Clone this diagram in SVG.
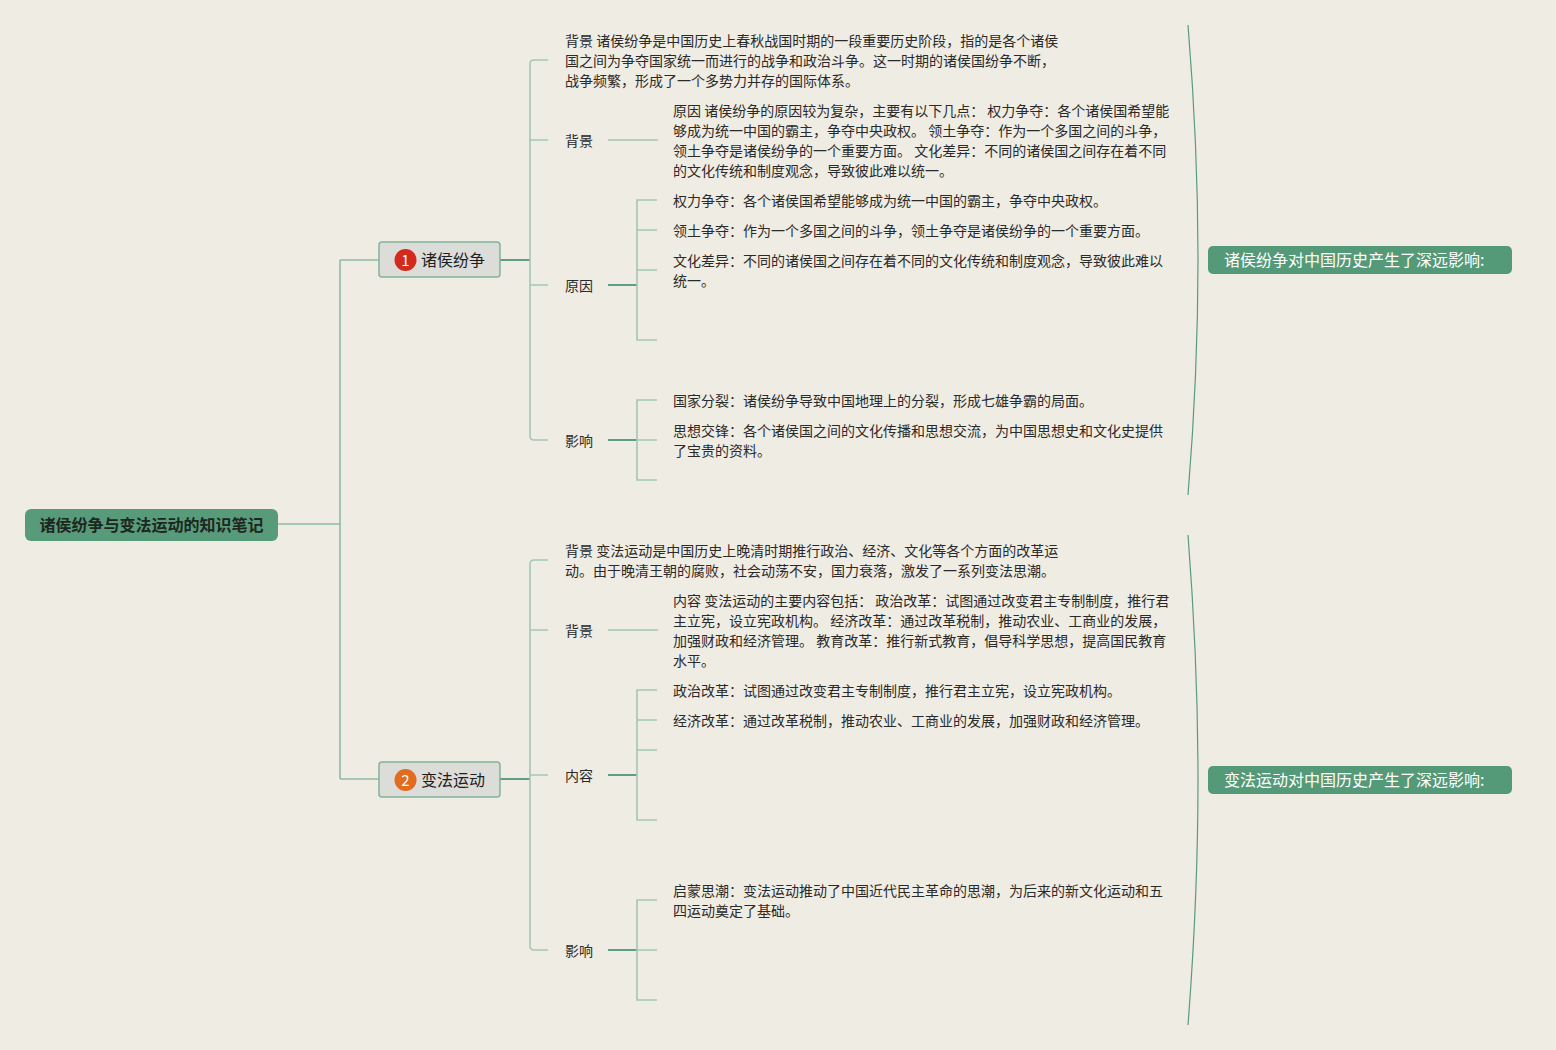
<svg xmlns="http://www.w3.org/2000/svg" width="1556" height="1050" viewBox="0 0 1556 1050">
<style>
text{font-family:"Noto Sans CJK SC","Noto Sans",sans-serif;}
.t{font-size:14px;fill:#2a2a2a;}
.lbl{font-size:14px;fill:#2a2a2a;}
.ln{fill:none;stroke:#a3c7b5;stroke-width:1.6;}
.lm{fill:none;stroke:#5f9e84;stroke-width:2;}
.lr{fill:none;stroke:#8fbba6;stroke-width:1.6;}
.br{fill:none;stroke:#5a9a80;stroke-width:1.2;}
.sub{fill:#dcdcd9;stroke:#82b29c;stroke-width:1.5;}
.sum{fill:#559a78;}
.sumt{font-size:16px;fill:#ffffff;}
</style>
<rect width="1556" height="1050" fill="#efece3"/>
<g id="connectors">
<path class="lr" d="M278,524 H340 M340,260 V779 M340,260 H379 M340,779 H379"/>
<path class="lm" d="M500,260 H530 M500,779 H530"/>
<path class="ln" d="M548,60 H534 Q530,60 530,64 V436 Q530,440 534,440 H548 M530,140 H548 M530,285 H548"/>
<path class="ln" d="M608,140 H658"/>
<path class="lm" d="M608,285 H637 M608,440 H637"/>
<path class="ln" d="M657,200 H637 V340 H657 M637,230 H657 M637,270 H657"/>
<path class="ln" d="M657,400 H637 V480 H657 M637,440 H657"/>
<path class="ln" d="M548,560 H534 Q530,560 530,564 V946 Q530,950 534,950 H548 M530,630 H548 M530,775 H548"/>
<path class="ln" d="M608,630 H658"/>
<path class="lm" d="M608,775 H637 M608,950 H637"/>
<path class="ln" d="M657,690 H637 V820 H657 M637,720 H657 M637,750 H657"/>
<path class="ln" d="M657,900 H637 V1000 H657 M637,950 H657"/>
<path class="br" d="M1188,25 C1195,110 1198,190 1198,260 C1198,330 1195,410 1188,495"/>
<path class="br" d="M1188,535 C1195,625 1198,705 1198,780 C1198,855 1195,935 1188,1025"/>
</g>
<g id="root">
<rect x="25" y="509" width="253" height="32" rx="6" fill="#579b7a"/>
<text x="151.5" y="530.5" text-anchor="middle" font-size="16" font-weight="bold" fill="#1e2620">诸侯纷争与变法运动的知识笔记</text>
</g>
<g id="node1">
<rect class="sub" x="379" y="242" width="121" height="35" rx="3"/>
<circle cx="405.5" cy="260" r="11" fill="#d42a1b"/>
<text x="405.5" y="265.5" text-anchor="middle" font-size="15" fill="#ffffff">1</text>
<text x="421" y="265.5" font-size="16" fill="#1e1e1e">诸侯纷争</text>
</g>
<g id="node2">
<rect class="sub" x="379" y="762" width="121" height="35" rx="3"/>
<circle cx="405.5" cy="780" r="11" fill="#e26b1e"/>
<text x="405.5" y="785.5" text-anchor="middle" font-size="15" fill="#ffffff">2</text>
<text x="421" y="785.5" font-size="16" fill="#1e1e1e">变法运动</text>
</g>
<g id="n1-bg-text">
<text class="t" x="565" y="46">背景 诸侯纷争是中国历史上春秋战国时期的一段重要历史阶段，指的是各个诸侯</text>
<text class="t" x="565" y="66">国之间为争夺国家统一而进行的战争和政治斗争。这一时期的诸侯国纷争不断，</text>
<text class="t" x="565" y="86">战争频繁，形成了一个多势力并存的国际体系。</text>
</g>
<g id="n1-bg"><text class="lbl" x="565" y="146">背景</text></g>
<g id="n1-bg-child">
<text class="t" x="673" y="116">原因 诸侯纷争的原因较为复杂，主要有以下几点： 权力争夺：各个诸侯国希望能</text>
<text class="t" x="673" y="136">够成为统一中国的霸主，争夺中央政权。 领土争夺：作为一个多国之间的斗争，</text>
<text class="t" x="673" y="156">领土争夺是诸侯纷争的一个重要方面。 文化差异：不同的诸侯国之间存在着不同</text>
<text class="t" x="673" y="176">的文化传统和制度观念，导致彼此难以统一。</text>
</g>
<g id="n1-cause"><text class="lbl" x="565" y="291">原因</text></g>
<g id="n1-cause-1"><text class="t" x="673" y="206">权力争夺：各个诸侯国希望能够成为统一中国的霸主，争夺中央政权。</text></g>
<g id="n1-cause-2"><text class="t" x="673" y="236">领土争夺：作为一个多国之间的斗争，领土争夺是诸侯纷争的一个重要方面。</text></g>
<g id="n1-cause-3">
<text class="t" x="673" y="266">文化差异：不同的诸侯国之间存在着不同的文化传统和制度观念，导致彼此难以</text>
<text class="t" x="673" y="286">统一。</text>
</g>
<g id="n1-impact"><text class="lbl" x="565" y="446">影响</text></g>
<g id="n1-impact-1"><text class="t" x="673" y="406">国家分裂：诸侯纷争导致中国地理上的分裂，形成七雄争霸的局面。</text></g>
<g id="n1-impact-2">
<text class="t" x="673" y="436">思想交锋：各个诸侯国之间的文化传播和思想交流，为中国思想史和文化史提供</text>
<text class="t" x="673" y="456">了宝贵的资料。</text>
</g>
<g id="n2-bg-text">
<text class="t" x="565" y="556">背景 变法运动是中国历史上晚清时期推行政治、经济、文化等各个方面的改革运</text>
<text class="t" x="565" y="576">动。由于晚清王朝的腐败，社会动荡不安，国力衰落，激发了一系列变法思潮。</text>
</g>
<g id="n2-bg"><text class="lbl" x="565" y="636">背景</text></g>
<g id="n2-bg-child">
<text class="t" x="673" y="606">内容 变法运动的主要内容包括： 政治改革：试图通过改变君主专制制度，推行君</text>
<text class="t" x="673" y="626">主立宪，设立宪政机构。 经济改革：通过改革税制，推动农业、工商业的发展，</text>
<text class="t" x="673" y="646">加强财政和经济管理。 教育改革：推行新式教育，倡导科学思想，提高国民教育</text>
<text class="t" x="673" y="666">水平。</text>
</g>
<g id="n2-content"><text class="lbl" x="565" y="781">内容</text></g>
<g id="n2-content-1"><text class="t" x="673" y="696">政治改革：试图通过改变君主专制制度，推行君主立宪，设立宪政机构。</text></g>
<g id="n2-content-2"><text class="t" x="673" y="726">经济改革：通过改革税制，推动农业、工商业的发展，加强财政和经济管理。</text></g>
<g id="n2-impact"><text class="lbl" x="565" y="956">影响</text></g>
<g id="n2-impact-1">
<text class="t" x="673" y="896">启蒙思潮：变法运动推动了中国近代民主革命的思潮，为后来的新文化运动和五</text>
<text class="t" x="673" y="916">四运动奠定了基础。</text>
</g>
<g id="summary1">
<rect class="sum" x="1208" y="246" width="304" height="28" rx="5"/>
<text class="sumt" x="1224" y="265.5">诸侯纷争对中国历史产生了深远影响:</text>
</g>
<g id="summary2">
<rect class="sum" x="1208" y="766" width="304" height="28" rx="5"/>
<text class="sumt" x="1224" y="785.5">变法运动对中国历史产生了深远影响:</text>
</g>
</svg>
